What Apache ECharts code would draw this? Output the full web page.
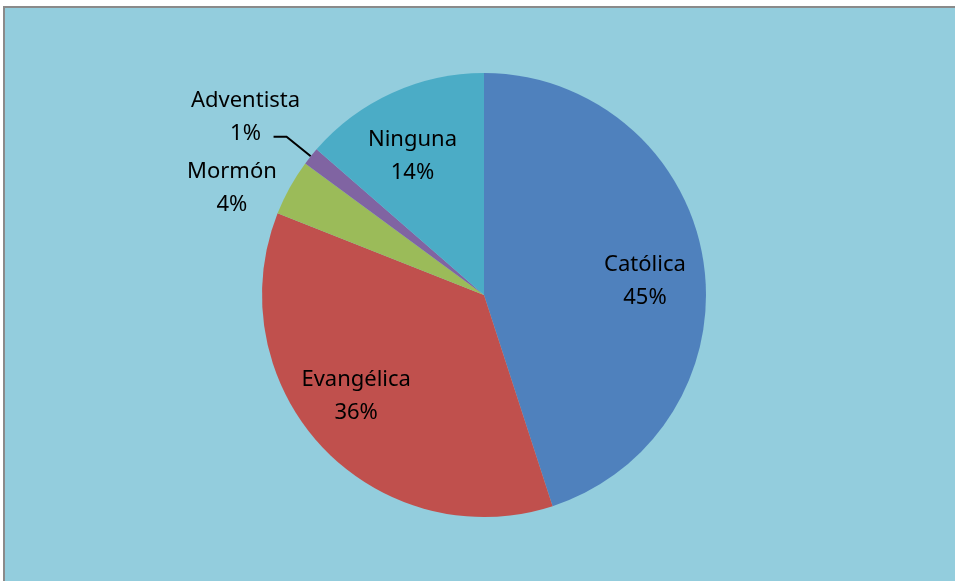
<!DOCTYPE html>
<html>
<head>
<meta charset="utf-8">
<script src="https://cdn.jsdelivr.net/npm/echarts@6/dist/echarts.min.js"></script>
<style>
  html, body { margin: 0; padding: 0; background: #ffffff; }
  #frame {
    position: absolute; left: 3px; top: 6px; width: 950px; height: 580px;
    background: #93cddd; border-left: 2px solid #8a8a8a; border-top: 2px solid #8a8a8a;
  }
  #pie { position: absolute; left: 0; top: 0; width: 955px; height: 581px; }
</style>
</head>
<body>
<div id="frame"></div>
<div id="pie"></div>
<script>
// religions, clockwise from 12 o'clock
const names = ['Católica', 'Evangélica', 'Mormón', 'Adventista', 'Ninguna']
const values = [45.0, 36.0, 4.1, 1.3, 13.6]
const colors = ['#4f81bd', '#c0504d', '#9bbb59', '#8064a2', '#4bacc6']
// which slices carry their label outside the pie
const outside = [false, false, true, true, false]

const font = {
  fontFamily: 'Noto Sans',
  fontSize: 22,
  color: '#000',
  lineHeight: 33
}

const fmt = p => p.name + '\n' + Math.round(p.percent) + '%'

const pieData = names.map((n, i) => ({
  name: n,
  value: values[i],
  itemStyle: { color: colors[i] },
  label: outside[i] ? {
    show: true,
    position: 'outside',
    // extra blank line so the leader line meets the "1%" row
    formatter: i === 3 ? p => p.name + '\n' + Math.round(p.percent) + '%\n ' : fmt,
    alignTo: 'none',
    ...font
  } : { show: false },
  labelLine: outside[i] ? {
    show: i === 3,
    length: i === 3 ? 31 : 2,
    length2: i === 3 ? 13 : 2,
    lineStyle: { color: '#000', width: 2 }
  } : { show: false }
}))

// ring used only to place the inside labels further out, like the original
const labelData = names.map((n, i) => ({
  name: n,
  value: values[i],
  label: { show: !outside[i] }
}))

// small nudges of the label boxes
const outShift = { 2: [-35, -33], 3: [-23, -3] }
const inShift = { 0: [0, 12], 1: [-9, -10], 4: [-4, 10] }

const chart = echarts.init(document.getElementById('pie'))
chart.setOption({
  animation: false,
  series: [
    {
      type: 'pie',
      center: [484, 295],
      radius: 222,
      startAngle: 90,
      clockwise: true,
      silent: true,
      data: pieData,
      labelLayout: p => {
        const s = outShift[p.dataIndex]
        return s ? { align: 'center', dx: s[0], dy: s[1] } : {}
      }
    },
    {
      type: 'pie',
      center: [484, 295],
      radius: [98, 222],
      startAngle: 90,
      clockwise: true,
      silent: true,
      itemStyle: { color: 'rgba(0,0,0,0)' },
      label: { position: 'inside', formatter: fmt, ...font },
      labelLine: { show: false },
      data: labelData,
      labelLayout: p => {
        const s = inShift[p.dataIndex]
        return s ? { dx: s[0], dy: s[1] } : {}
      }
    }
  ]
})
</script>
</body>
</html>
